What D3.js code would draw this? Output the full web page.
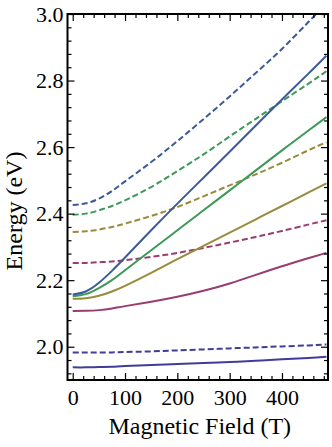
<!DOCTYPE html>
<html>
<head>
<meta charset="utf-8">
<script src="https://cdn.jsdelivr.net/npm/d3@7"></script>
<style>
  body { margin: 0; background: #fff; }
  svg text { font-family: "Liberation Serif", "Times New Roman", Tinos, "DejaVu Serif", serif !important; }
</style>
</head>
<body>
<script>
const field = [0, 25, 50, 75, 100, 150, 200, 250, 300, 350, 400, 450, 485];

// energies (eV), solid = one branch, dashed = the other
const navySolid    = [1.938, 1.938, 1.939, 1.940, 1.942, 1.945, 1.948, 1.951, 1.954, 1.958, 1.962, 1.966, 1.970];
const navyDashed   = [1.983, 1.983, 1.983, 1.983, 1.984, 1.986, 1.989, 1.992, 1.995, 1.998, 2.001, 2.004, 2.007];
const magentaSolid = [2.107, 2.108, 2.110, 2.115, 2.122, 2.135, 2.150, 2.168, 2.190, 2.216, 2.242, 2.266, 2.282];
const magentaDashed= [2.252, 2.252, 2.254, 2.256, 2.260, 2.270, 2.282, 2.297, 2.313, 2.330, 2.348, 2.367, 2.380];
const oliveSolid   = [2.144, 2.146, 2.153, 2.166, 2.183, 2.222, 2.263, 2.303, 2.343, 2.383, 2.423, 2.463, 2.491];
const oliveDashed  = [2.345, 2.347, 2.352, 2.360, 2.370, 2.393, 2.420, 2.452, 2.485, 2.518, 2.553, 2.590, 2.615];
const greenSolid   = [2.152, 2.158, 2.176, 2.200, 2.230, 2.290, 2.350, 2.410, 2.470, 2.530, 2.590, 2.649, 2.690];
const greenDashed  = [2.397, 2.400, 2.410, 2.423, 2.440, 2.480, 2.528, 2.578, 2.632, 2.685, 2.738, 2.790, 2.828];
const blueSolid    = [2.157, 2.166, 2.192, 2.228, 2.268, 2.350, 2.430, 2.508, 2.586, 2.665, 2.743, 2.820, 2.875];
const blueDashed   = [2.426, 2.431, 2.445, 2.468, 2.497, 2.555, 2.618, 2.684, 2.752, 2.823, 2.895, 2.975, 3.030];

const xTicks = [0, 100, 200, 300, 400];
const yTicks = [2.0, 2.2, 2.4, 2.6, 2.8, 3.0];

const series = [
    { vals: navySolid,     color: "#3f3d99", dash: null },
    { vals: navyDashed,    color: "#3f3d99", dash: "6,3" },
    { vals: magentaSolid,  color: "#993d71", dash: null },
    { vals: magentaDashed, color: "#993d71", dash: "6,3" },
    { vals: oliveSolid,    color: "#998b3d", dash: null },
    { vals: oliveDashed,   color: "#998b3d", dash: "6,3" },
    { vals: greenSolid,    color: "#3d9956", dash: null },
    { vals: greenDashed,   color: "#3d9956", dash: "6,3" },
    { vals: blueSolid,     color: "#3d5a99", dash: null },
    { vals: blueDashed,    color: "#3d5a99", dash: "6,3" }
];

const FONT = "Liberation Serif";

const width = 332, height = 447;
const margin = { top: 14, right: 4, bottom: 67, left: 67.5 };
const innerW = width - margin.left - margin.right;
const innerH = height - margin.top - margin.bottom;

const x = d3.scaleLinear().domain([-10, 488]).range([0, innerW]);
const y = d3.scaleLinear().domain([1.9, 3.0]).range([innerH, 0]);

const svg = d3.select("body").append("svg")
    .attr("width", width)
    .attr("height", height)
    .attr("font-family", FONT);

const g = svg.append("g").attr("transform", `translate(${margin.left},${margin.top})`);

g.append("clipPath").attr("id", "plot-clip")
    .append("rect").attr("width", innerW).attr("height", innerH);

const line = d3.line()
    .x((d, i) => x(field[i]))
    .y(d => y(d))
    .curve(d3.curveNatural);

g.append("g").attr("clip-path", "url(#plot-clip)")
    .selectAll("path")
    .data(series)
    .join("path")
    .attr("fill", "none")
    .attr("stroke", d => d.color)
    .attr("stroke-width", 2)
    .attr("stroke-dasharray", d => d.dash)
    .attr("d", d => line(d.vals));

// minor ticks
const xMinor = d3.range(0, 481, 20).filter(v => v % 100 !== 0);
const yMinor = d3.range(1.92, 3.0, 0.04).filter(v => Math.abs(v * 5 - Math.round(v * 5)) > 1e-6);

const styleAxis = sel => {
    sel.attr("font-family", FONT).attr("font-size", 22);
    sel.select(".domain").remove();
    sel.selectAll(".tick line").attr("stroke", "#000").attr("stroke-width", 1.2);
    sel.selectAll(".tick text").attr("fill", "#000").attr("font-family", FONT);
};

// bottom
g.append("g").attr("transform", `translate(0,${innerH})`)
    .call(d3.axisBottom(x).tickValues(xTicks).tickSize(-7).tickPadding(9).tickFormat(d3.format("d")))
    .call(styleAxis);
g.append("g").attr("transform", `translate(0,${innerH})`)
    .call(d3.axisBottom(x).tickValues(xMinor).tickSize(-4).tickFormat(""))
    .call(styleAxis);
// top
g.append("g")
    .call(d3.axisTop(x).tickValues(xTicks).tickSize(-7).tickFormat(""))
    .call(styleAxis);
g.append("g")
    .call(d3.axisTop(x).tickValues(xMinor).tickSize(-4).tickFormat(""))
    .call(styleAxis);
// left
g.append("g")
    .call(d3.axisLeft(y).tickValues(yTicks).tickSize(-7).tickPadding(4).tickFormat(d3.format(".1f")))
    .call(styleAxis);
g.append("g")
    .call(d3.axisLeft(y).tickValues(yMinor).tickSize(-4).tickFormat(""))
    .call(styleAxis);
// right
g.append("g").attr("transform", `translate(${innerW},0)`)
    .call(d3.axisRight(y).tickValues(yTicks).tickSize(-7).tickFormat(""))
    .call(styleAxis);
g.append("g").attr("transform", `translate(${innerW},0)`)
    .call(d3.axisRight(y).tickValues(yMinor).tickSize(-4).tickFormat(""))
    .call(styleAxis);

// frame
g.append("rect")
    .attr("width", innerW)
    .attr("height", innerH)
    .attr("fill", "none")
    .attr("stroke", "#000")
    .attr("stroke-width", 2);

// axis titles
svg.append("text")
    .attr("x", margin.left + innerW / 2 + 2)
    .attr("y", 434)
    .attr("text-anchor", "middle")
    .attr("font-family", FONT)
    .attr("font-size", 24)
    .text("Magnetic Field (T)");

svg.append("text")
    .attr("transform", `translate(22,${margin.top + innerH / 2 + 14}) rotate(-90)`)
    .attr("text-anchor", "middle")
    .attr("font-family", FONT)
    .attr("font-size", 24)
    .text("Energy (eV)");
</script>
</body>
</html>
